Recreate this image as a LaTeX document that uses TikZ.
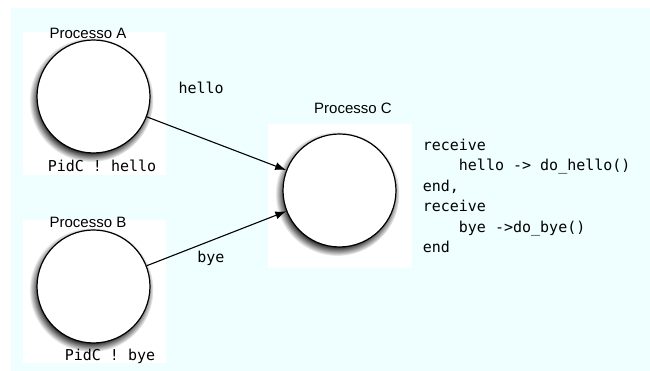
\documentclass[tikz,border=0pt]{standalone}
\usepackage{fontspec}
\setmainfont{Liberation Sans}
\newfontfamily\codefont{DejaVu Sans Mono}
\usetikzlibrary{positioning, shadows, arrows.meta}
\definecolor{bgcyan}{RGB}{239,255,255}

\begin{document}
\begin{tikzpicture}[
    x=1pt, y=1pt,
    process/.style={circle, draw, line width=1.2pt, fill=white, minimum size=113pt, inner sep=0pt,
        circular drop shadow={shadow xshift=-2pt, shadow yshift=-3pt, shadow scale=1.1, fill=black!80}},
    title/.style={font=\fontsize{15}{17}\selectfont, inner sep=0pt},
    msg/.style={font=\codefont\fontsize{15}{17}\selectfont, inner sep=0pt},
    code/.style={inner sep=0pt, align=left, font=\codefont\fontsize{15}{20.4}\selectfont},
    send/.style={-{Latex[length=11pt, width=8pt]}, line width=1.1pt}
]
\useasboundingbox (0,0) rectangle (650,371);

% Background and panels
\fill[bgcyan] (11,0) rectangle (650,363);
\fill[white] (23,196) rectangle (166,339);
\fill[white] (23,8) rectangle (166,151);
\fill[white] (268,103) rectangle (412,247);

% Processes
\node[process] (procA) at (93.5,274.5) {};
\node[process] (procB) at (93.5,84.5) {};
\node[process] (procC) at (339.5,180.5) {};

% Names and sends
\node[title, above=1pt of procA, xshift=-5.5pt] (nameA) {Processo A};
\node[title, above=2pt of procB, xshift=-5.5pt] (nameB) {Processo B};
\node[title, above=20pt of procC, xshift=13.5pt] (nameC) {Processo C};
\node[msg, below=6pt of procA, xshift=8.5pt] (sendA) {PidC ! hello};
\node[msg, below=5.5pt of procB, xshift=16.5pt] (sendB) {PidC ! bye};

% Receive block
\node[code, right=26pt of procC, anchor=west, yshift=-5.5pt] (recv)
    {receive\\\hphantom{0000}hello -> do\_hello()\\end,\\receive\\\hphantom{0000}bye ->do\_bye()\\end};

% Messages
\draw[send] (procA) -- node[msg, pos=0.39, above=43pt] (hello) {hello} (procC);
\draw[send] (procB) -- node[msg, pos=0.46, below=9.5pt] (bye) {bye} (procC);

\end{tikzpicture}
\end{document}
